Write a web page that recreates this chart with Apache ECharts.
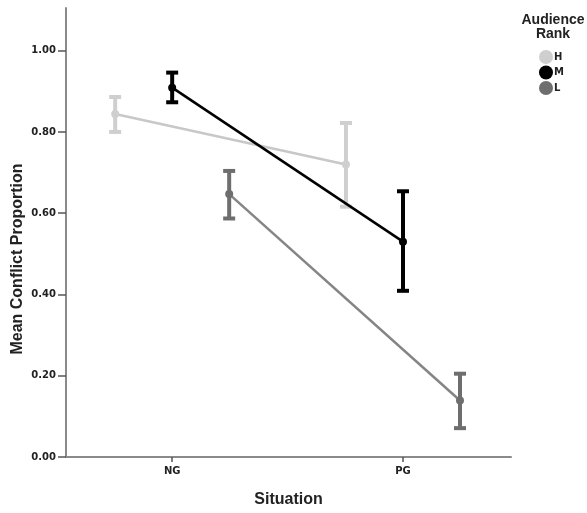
<!DOCTYPE html>
<html><head><meta charset="utf-8">
<script src="https://cdn.jsdelivr.net/npm/echarts@6/dist/echarts.min.js"></script>
<style>html,body{margin:0;padding:0;background:#fff}#c{width:587px;height:513px}</style>
</head><body><div id="c"></div>
<script>
var categories = ['NG', 'PG'];
var groups = ['H', 'M', 'L'];
var groupOffsets = [-0.247, 0, 0.247];
var meansH = [0.844, 0.720];
var meansM = [0.909, 0.530];
var meansL = [0.647, 0.139];
var lowH = [0.800, 0.616], highH = [0.886, 0.822];
var lowM = [0.873, 0.409], highM = [0.946, 0.654];
var lowL = [0.587, 0.071], highL = [0.704, 0.205];
var yTicks = [0, 0.2, 0.4, 0.6, 0.8, 1.0];

var lineColors = ['#c8c8c8', '#000000', '#858585'];
var barColors = ['#cfcfcf', '#000000', '#6e6e6e'];
var means = [meansH, meansM, meansL];
var lows = [lowH, lowM, lowL];
var highs = [highH, highM, highL];

var series = [];
groups.forEach(function (g, gi) {
  var pts = categories.map(function (c, ci) { return [ci + groupOffsets[gi], means[gi][ci]]; });
  var errs = categories.map(function (c, ci) { return [ci + groupOffsets[gi], lows[gi][ci], highs[gi][ci]]; });
  series.push({
    type: 'custom', name: g + '_err', z: 2,
    data: errs,
    renderItem: function (params, api) {
      var x = api.value(0);
      var lo = api.coord([x, api.value(1)]);
      var hi = api.coord([x, api.value(2)]);
      var w = 6;
      var st = { stroke: barColors[gi], lineWidth: 4 };
      return { type: 'group', children: [
        { type: 'line', shape: { x1: lo[0], y1: lo[1], x2: hi[0], y2: hi[1] }, style: st },
        { type: 'line', shape: { x1: lo[0] - w, y1: lo[1], x2: lo[0] + w, y2: lo[1] }, style: st },
        { type: 'line', shape: { x1: hi[0] - w, y1: hi[1], x2: hi[0] + w, y2: hi[1] }, style: st }
      ]};
    },
    silent: true
  });
  series.push({
    type: 'line', name: g, z: 3,
    data: pts,
    symbol: 'circle', symbolSize: 8,
    itemStyle: { color: barColors[gi] },
    lineStyle: { color: lineColors[gi], width: 2.5 },
    emphasis: { disabled: true }
  });
});

var chart = echarts.init(document.getElementById('c'));
chart.setOption({
  animation: false,
  backgroundColor: '#fff',
  grid: { left: 66, right: 76, top: 8, bottom: 52 },
  xAxis: {
    type: 'value', min: -0.46, max: 1.468,
    name: 'Situation', nameLocation: 'middle', nameGap: 35,
    nameTextStyle: { fontFamily: 'Liberation Sans', fontWeight: 'bold', fontSize: 16, color: '#222' },
    axisLine: { onZero: false, lineStyle: { color: '#8a8a8a', width: 2 } },
    axisTick: { show: true, length: 5, lineStyle: { color: '#555', width: 1.5 }, customValues: [0, 1] },
    axisLabel: { customValues: [0, 1], formatter: function (v) { return categories[Math.round(v)] || ''; },
      fontFamily: 'DejaVu Sans', fontWeight: 'bold', fontSize: 10, color: '#222', margin: 9 },
    splitLine: { show: false }
  },
  yAxis: {
    type: 'value', min: 0, max: 1.105,
    axisLine: { show: true, onZero: false, lineStyle: { color: '#8a8a8a', width: 2 } },
    axisTick: { show: true, length: 8, lineStyle: { color: '#555', width: 1.5 }, customValues: yTicks },
    axisLabel: { customValues: yTicks, formatter: function (v) { return v.toFixed(2); },
      fontFamily: 'DejaVu Sans', fontWeight: 'bold', fontSize: 10, color: '#222', margin: 10 },
    splitLine: { show: false }
  },
  legend: {
    data: groups.map(function (g, gi) { return { name: g, icon: 'circle', itemStyle: { color: barColors[gi] } }; }),
    orient: 'vertical', left: 539, top: 50, itemWidth: 14, itemHeight: 14, itemGap: 1.5, padding: 0,
    textStyle: { fontFamily: 'DejaVu Sans', fontWeight: 'bold', fontSize: 10, color: '#222', padding: [0, 0, 0, -4] },
    selectedMode: false
  },
  graphic: [{
    type: 'text', x: 553, y: 13,
    style: { text: 'Audience\nRank', fontFamily: 'Liberation Sans', fontWeight: 'bold', fontSize: 14, fill: '#222', align: 'center', lineHeight: 14 }
  }, {
    type: 'text', x: 18, y: 259, rotation: Math.PI / 2,
    style: { text: 'Mean Conflict Proportion', fontFamily: 'Liberation Sans', fontWeight: 'bold', fontSize: 16, fill: '#222', align: 'center', verticalAlign: 'middle' }
  }],
  series: series
});
</script></body></html>
